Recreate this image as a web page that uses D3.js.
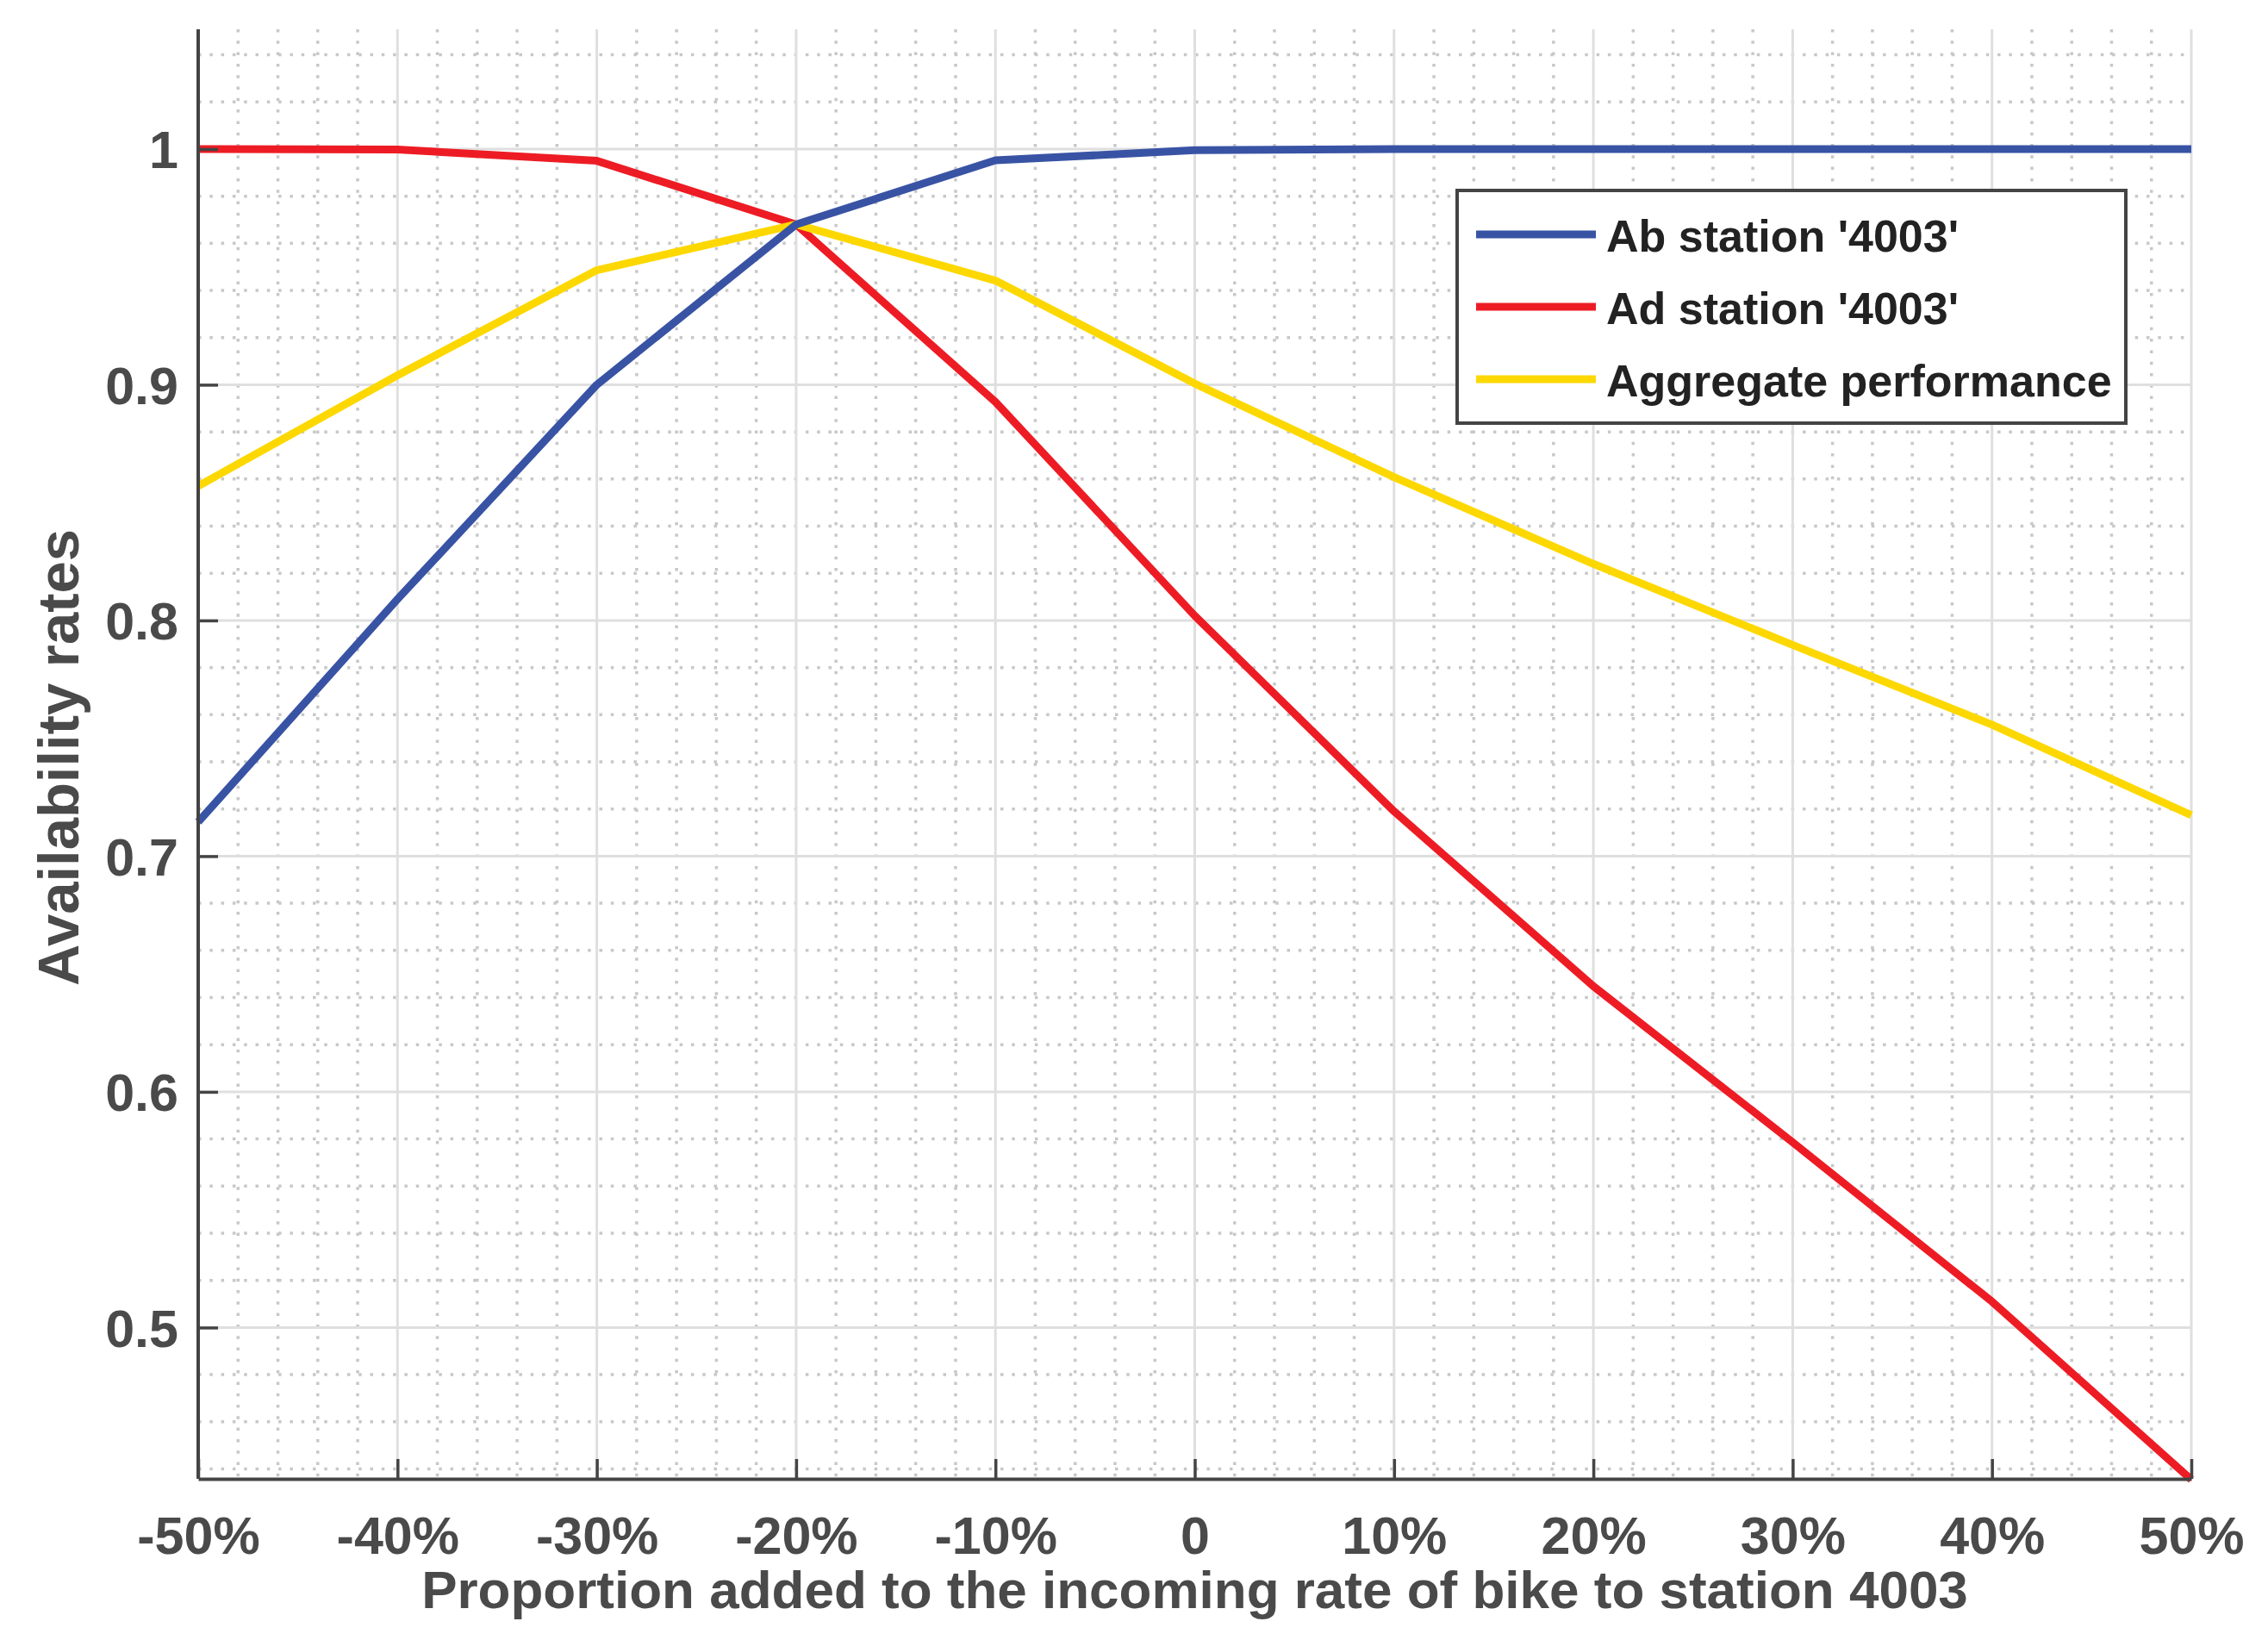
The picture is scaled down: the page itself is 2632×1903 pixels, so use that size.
<!DOCTYPE html>
<html>
<head>
<meta charset="utf-8">
<script src="https://cdn.jsdelivr.net/npm/d3@7"></script>
<style>
  html, body { margin: 0; padding: 0; background: #ffffff; }
  svg { display: block; }
  text { font-family: "Liberation Sans", Arial, Helvetica, sans-serif; font-weight: bold; }
</style>
</head>
<body>
<script>
// ---- Data ----
const xValues = [-50, -40, -30, -20, -10, 0, 10, 20, 30, 40, 50];
const xTickLabels = ["-50%", "-40%", "-30%", "-20%", "-10%", "0", "10%", "20%", "30%", "40%", "50%"];
const yTicks = [0.5, 0.6, 0.7, 0.8, 0.9, 1];
const yTickLabels = ["0.5", "0.6", "0.7", "0.8", "0.9", "1"];

const abStation = [0.7145, 0.809, 0.900, 0.968, 0.9952, 0.9995, 1.0, 1.0, 1.0, 1.0, 1.0];
const adStation = [1.0, 0.9998, 0.995, 0.968, 0.8927, 0.802, 0.719, 0.6448, 0.5786, 0.511, 0.4355];
const aggregate = [0.857, 0.904, 0.9486, 0.968, 0.9442, 0.9005, 0.8608, 0.824, 0.7896, 0.7558, 0.7174];

const seriesNames = ["Ab station '4003'", "Ad station '4003'", "Aggregate performance"];
const seriesColors = ["#3953a4", "#ed1c24", "#fdd800"];
const seriesValues = [abStation, adStation, aggregate];

const xLabel = "Proportion added to the incoming rate of bike to station 4003";
const yLabel = "Availability rates";

// ---- Layout ----
const W = 2632, H = 1903;
const L = 230, R = 2543, T = 34, B = 1716;

const svg = d3.select("body").append("svg").attr("width", W).attr("height", H);

const x = d3.scaleLinear().domain([-50, 50]).range([L, R]);
const y = d3.scaleLinear().domain([0.4358, 1.0508]).range([B, T]);

// minor grid
const minorX = d3.range(-50, 50.001, 2).filter(v => Math.abs(v % 10) > 1e-6);
const minorY = d3.range(0.44, 1.05, 0.02).filter(v => Math.abs(Math.round(v * 10) - v * 10) > 1e-6);

const grid = svg.append("g");
grid.selectAll("line.mx").data(minorX).enter().append("line")
  .attr("x1", d => x(d)).attr("x2", d => x(d)).attr("y1", T).attr("y2", B)
  .attr("stroke", "#c8c8c8").attr("stroke-width", 3.5).attr("stroke-dasharray", "3.5,9.8");
grid.selectAll("line.my").data(minorY).enter().append("line")
  .attr("x1", L).attr("x2", R).attr("y1", d => y(d)).attr("y2", d => y(d))
  .attr("stroke", "#c8c8c8").attr("stroke-width", 3.5).attr("stroke-dasharray", "3.5,9.8");
// major grid
grid.selectAll("line.Mx").data(xValues).enter().append("line")
  .attr("x1", d => x(d)).attr("x2", d => x(d)).attr("y1", T).attr("y2", B)
  .attr("stroke", "#dfdfdf").attr("stroke-width", 3);
grid.selectAll("line.My").data(yTicks).enter().append("line")
  .attr("x1", L).attr("x2", R).attr("y1", d => y(d)).attr("y2", d => y(d))
  .attr("stroke", "#dfdfdf").attr("stroke-width", 3);

// lines
const line = d3.line().x((d, i) => x(xValues[i])).y(d => y(d));
const drawOrder = [1, 2, 0];
svg.append("g").selectAll("path").data(drawOrder).enter().append("path")
  .attr("d", i => line(seriesValues[i]))
  .attr("fill", "none")
  .attr("stroke", i => seriesColors[i])
  .attr("stroke-width", 9)
  .attr("stroke-linejoin", "round")
  .attr("stroke-linecap", "butt");

// axes
const axisColor = "#444444";
const xAxis = d3.axisBottom(x).tickValues(xValues)
  .tickFormat((d, i) => xTickLabels[i]).tickSizeInner(-23).tickSizeOuter(0).tickPadding(44);
const yAxis = d3.axisLeft(y).tickValues(yTicks)
  .tickFormat((d, i) => yTickLabels[i]).tickSizeInner(-23).tickSizeOuter(0).tickPadding(23);

const gx = svg.append("g").attr("transform", `translate(0,${B})`).call(xAxis);
const gy = svg.append("g").attr("transform", `translate(${L},0)`).call(yAxis);

[gx, gy].forEach(g => {
  g.select(".domain").attr("stroke", axisColor).attr("stroke-width", 4);
  g.selectAll(".tick line").attr("stroke", axisColor).attr("stroke-width", 3.5);
  g.selectAll(".tick text").attr("fill", "#4a4a4b")
    .style("font-size", "61px").style("font-family", "'Liberation Sans', Arial, sans-serif").style("font-weight", "bold");
});
gy.select(".domain").attr("d", `M0,${T}V${B}`);
gy.selectAll(".tick text").attr("dy", "0.36em");

// axis labels
svg.append("text").attr("x", (L + R) / 2).attr("y", 1866)
  .attr("text-anchor", "middle").attr("fill", "#4a4a4b").style("font-size", "62px").text(xLabel);
svg.append("text").attr("transform", `translate(91,${879}) rotate(-90)`)
  .attr("text-anchor", "middle").attr("fill", "#4a4a4b").style("font-size", "67px").text(yLabel);

// legend
const lg = svg.append("g");
lg.append("rect").attr("x", 1691).attr("y", 221).attr("width", 776).attr("height", 270)
  .attr("fill", "#ffffff").attr("stroke", "#444444").attr("stroke-width", 4);
const rowY = [272, 356, 440];
const items = lg.selectAll("g.item").data(seriesNames).enter().append("g");
items.append("line").attr("x1", 1713).attr("x2", 1852)
  .attr("y1", (d, i) => rowY[i]).attr("y2", (d, i) => rowY[i])
  .attr("stroke", (d, i) => seriesColors[i]).attr("stroke-width", 9);
items.append("text").attr("x", 1864).attr("y", (d, i) => rowY[i] + 20)
  .attr("fill", "#222222").style("font-size", "52px").text(d => d);
</script>
</body>
</html>
